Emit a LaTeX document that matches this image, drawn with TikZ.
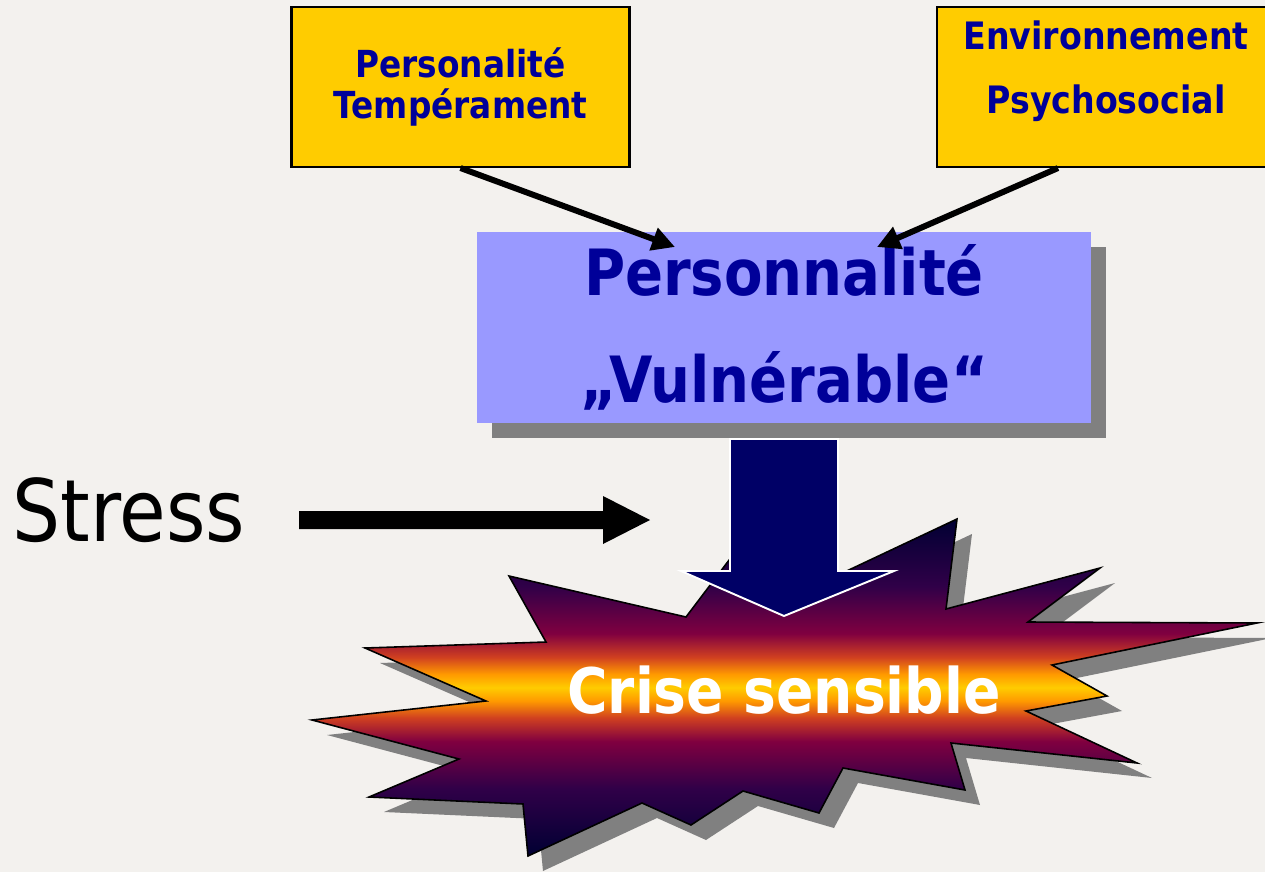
\documentclass[tikz,border=0pt]{standalone}
\usepackage{fontspec}
\usepackage{tikz}
\usetikzlibrary{calc,arrows.meta,shadows}
\newfontfamily\slidefont[FakeStretch=0.88]{DejaVu Sans}
\definecolor{bg}{HTML}{F3F1EE}
\definecolor{gold}{HTML}{FFCC00}
\definecolor{ink}{HTML}{000099}
\definecolor{lilac}{HTML}{9999FF}
\definecolor{navy}{HTML}{000066}
\definecolor{shade}{HTML}{808080}
\definecolor{night}{HTML}{000033}
\definecolor{plum}{HTML}{300048}
\definecolor{wine}{HTML}{800040}
\definecolor{ember}{HTML}{D04020}
\definecolor{amber}{HTML}{FF9900}
\pgfdeclareverticalshading{blast}{100bp}{color(0bp)=(night); color(25bp)=(night);
  color(35bp)=(plum); color(42bp)=(wine); color(45.5bp)=(ember); color(48bp)=(amber);
  color(50bp)=(gold); color(52bp)=(amber); color(54.5bp)=(ember); color(58bp)=(wine);
  color(65bp)=(plum); color(75bp)=(night); color(100bp)=(night)}
\tikzset{
  topbox/.style={draw=black, line width=1.2pt, fill=gold, minimum width=6.76cm,
    minimum height=3.2cm, inner sep=0pt, align=center, text=ink},
  vulnbox/.style={fill=lilac, minimum width=12.3cm, minimum height=3.82cm, inner sep=0pt,
    align=center, text=ink, font=\slidefont\bfseries\fontsize{36.3}{60.7}\selectfont,
    drop shadow={shadow xshift=0.3cm, shadow yshift=-0.3cm, fill=shade, opacity=1}},
  thinarrow/.style={draw=black, line width=3.4pt, -{Triangle[length=13pt, width=13pt]}},
  blockarrow/.style={fill=navy, draw=white, line width=1.1pt},
  burst/.style={draw=black, line width=0.9pt, shading=blast,
    drop shadow={shadow xshift=0.3cm, shadow yshift=-0.3cm, fill=shade, opacity=1}},
  stresslbl/.style={inner sep=0pt, text=black, font=\slidefont\fontsize{49}{52}\selectfont},
  crisetext/.style={inner sep=0pt, text=white, font=\slidefont\bfseries\fontsize{35.7}{40}\selectfont}
}
\begin{document}
\begin{tikzpicture}[x=0.02cm, y=-0.02cm]
  \useasboundingbox (0,0) rectangle (1265,872);
  \clip (0,0) rectangle (1265,872);
  \fill[bg] (0,0) rectangle (1265,872);

  % sources
  \node[topbox, font=\slidefont\bfseries\fontsize{21.2}{23}\selectfont] (perso) at (460.5,87) {Personalité\\Tempérament};
  \node[topbox, text depth=0.8cm, font=\slidefont\bfseries\fontsize{21.5}{36.3}\selectfont] (envir) at (1106,87) {Environnement\\Psychosocial};

  \node[vulnbox] (vuln) at (784,327.5) {Personnalité\\„Vulnérable“};

  \coordinate (tipA) at (675,247);
  \coordinate (tipB) at (877,247);
  \draw[thinarrow] (perso.south) -- (tipA);
  \draw[thinarrow] ($(envir.south)+(-48,0)$) -- (tipB);

  % stress
  \node[stresslbl, anchor=base west] (stress) at (12,541) {Stress};
  \coordinate (hit) at (650,520);
  \fill[black] (299,511) -- (603,511) -- (603,496) -- (hit) -- (603,544) -- (603,529) -- (299,529) -- cycle;

  % crisis
  \path[burst] (509,576) -- (686,617) -- (745,539) -- (800,593) -- (957,519) -- (946,609)
    -- (1100,568) -- (1028,622) -- (1257,623) -- (1052,665) -- (1107,696) -- (1026,711)
    -- (1137,763) -- (951,743) -- (965,790) -- (843,768) -- (819,813) -- (743,791)
    -- (691,825) -- (642,803) -- (528,856) -- (523,804) -- (369,797) -- (459,759)
    -- (312,720) -- (486,701) -- (365,648) -- (546,642) -- cycle;
  \draw[blockarrow] (730,439) -- (838,439) -- (838,571) -- (894,571) -- (784,616)
    -- (681,571) -- (730,571) -- cycle;
  \node[crisetext, anchor=base] (crise) at (784,713) {Crise sensible};
\end{tikzpicture}
\end{document}
